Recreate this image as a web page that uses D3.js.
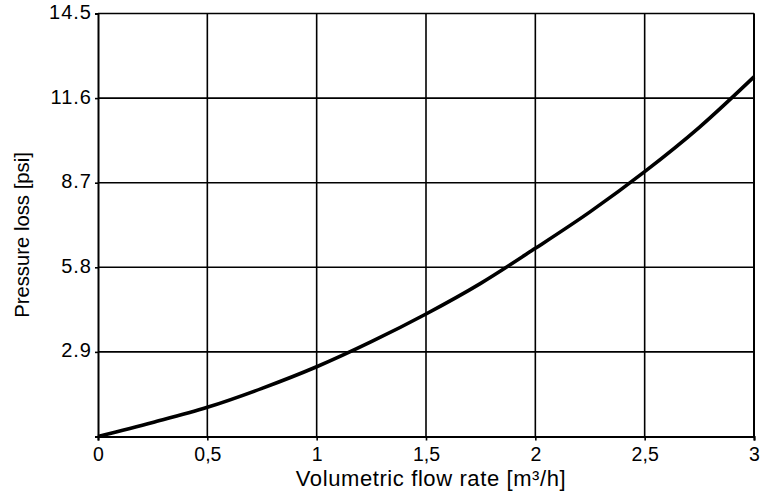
<!DOCTYPE html>
<html><head><meta charset="utf-8">
<script src="https://cdn.jsdelivr.net/npm/d3@7"></script>
<style>body{margin:0;background:#fff}svg{display:block}text{font-family:"Liberation Sans",Arial,sans-serif;fill:#000}</style>
</head><body>
<svg id="c" width="765" height="494"></svg>
<script>
const flow = [0, 0.25, 0.5, 0.75, 1, 1.25, 1.5, 1.75, 2, 2.25, 2.5, 2.75, 3];
const pressure = [0, 0.48, 1.0, 1.65, 2.39, 3.25, 4.2, 5.25, 6.45, 7.7, 9.08, 10.6, 12.33];
const xTicks = [0, 0.5, 1, 1.5, 2, 2.5, 3];
const xTickLabels = ["0", "0,5", "1", "1,5", "2", "2,5", "3"];
const yTicks = [2.9, 5.8, 8.7, 11.6, 14.5];
const yTickLabels = ["2.9", "5.8", "8.7", "11.6", "14.5"];

const svg = d3.select("#c");
const L = 98, R = 754, T = 13.5, B = 436.5;
const x = d3.scaleLinear().domain([0, 3]).range([L, R]);
const y = d3.scaleLinear().domain([0, 14.5]).range([B, T]);
const FF = '"Liberation Sans",Arial,sans-serif';

// grid
svg.append("g").selectAll("line").data(xTicks.slice(1)).join("line")
  .attr("x1", d => x(d)).attr("x2", d => x(d)).attr("y1", T).attr("y2", B)
  .attr("stroke", "#000").attr("stroke-width", 1.6);
svg.append("g").selectAll("line").data(yTicks).join("line")
  .attr("x1", L).attr("x2", R).attr("y1", d => y(d)).attr("y2", d => y(d))
  .attr("stroke", "#000").attr("stroke-width", 1.6);

// axes
const xAxis = d3.axisBottom(x).tickValues(xTicks).tickFormat((d, i) => xTickLabels[i]).tickSize(4).tickPadding(6.5);
const gx = svg.append("g").attr("transform", `translate(0,${B})`).call(xAxis);
gx.attr("font-size", null).attr("font-family", null);
gx.select(".domain").attr("stroke-width", 2);
gx.selectAll(".tick line").attr("stroke-width", 1.6);
gx.selectAll("text").style("font-size", "19.5px").style("font-family", FF);

const yAxis = d3.axisLeft(y).tickValues(yTicks).tickFormat((d, i) => yTickLabels[i]).tickSize(3).tickPadding(3);
const gy = svg.append("g").attr("transform", `translate(${L},0)`).call(yAxis);
gy.attr("font-size", null).attr("font-family", null);
gy.select(".domain").attr("stroke-width", 2);
gy.selectAll(".tick line").attr("stroke-width", 1.6);
gy.selectAll("text").style("font-size", "20px").style("font-family", FF)
  .style("letter-spacing", "1px").attr("dy", "0.25em");

// right frame
svg.append("line").attr("x1", R).attr("x2", R).attr("y1", T).attr("y2", B).attr("stroke", "#000").attr("stroke-width", 2);

// curve
const line = d3.line().x((d, i) => x(flow[i])).y(d => y(d)).curve(d3.curveMonotoneX);
svg.append("path").datum(pressure).attr("d", line).attr("fill", "none")
  .attr("stroke", "#000").attr("stroke-width", 3.6);

// titles
svg.append("text").attr("x", 431).attr("y", 485.5).attr("text-anchor", "middle")
  .style("font-size", "22px").style("letter-spacing", "0.6px").text("Volumetric flow rate [m³/h]");
svg.append("text").attr("transform", "translate(28.5,235) rotate(-90)").attr("text-anchor", "middle")
  .style("font-size", "20.3px").text("Pressure loss [psi]");
</script>
</body></html>
